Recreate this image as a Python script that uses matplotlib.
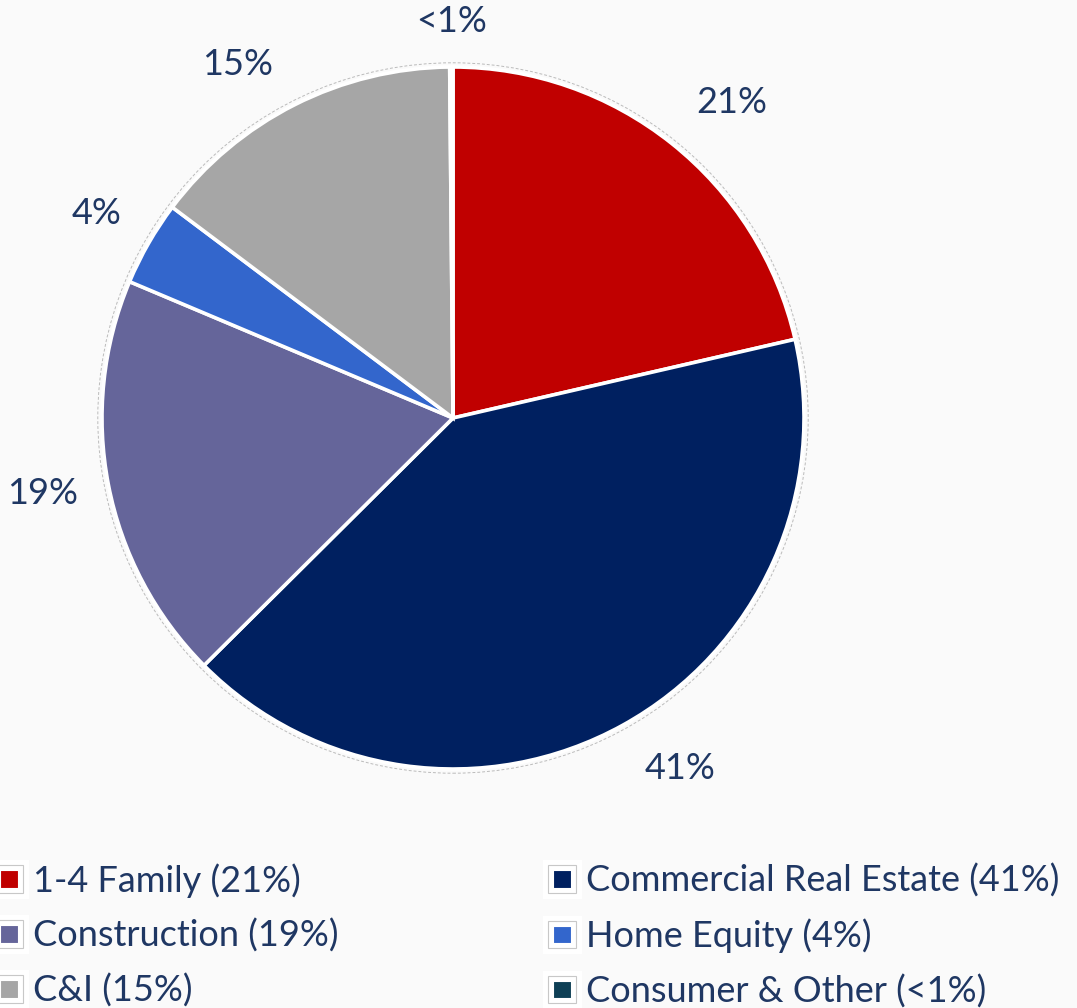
import matplotlib
matplotlib.use("Agg")
import numpy as np
import matplotlib.pyplot as plt
from matplotlib.patches import Patch, Circle
from matplotlib.legend_handler import HandlerTuple

# Loan portfolio mix
categories = ["1-4 Family", "Commercial Real Estate", "Construction",
              "Home Equity", "C&I", "Consumer & Other"]
shares = [21.4, 41.15, 18.8, 3.9, 14.6, 0.15]
pct_labels = ["21%", "41%", "19%", "4%", "15%", "<1%"]
colors = ["#C00000", "#002060", "#65659A", "#3366CC", "#A6A6A6", "#0E3F55"]
text_color = "#1F3763"

# label placement tweaks (degrees, radius) to follow the source layout
label_nudge = [3.0, -4.0, 0.5, 0.0, -4.5, 0.0]
label_radius = [1.2, 1.19, 1.19, 1.17, 1.18, 1.13]

plt.rcParams['font.family'] = ['Lato', 'DejaVu Sans']

fig = plt.figure(figsize=(10.77, 10.08), dpi=100)
fig.patch.set_facecolor("#FAFAFA")
ax = fig.add_axes([0, 0, 1, 1])
ax.set_facecolor("none")

wedges, texts = ax.pie(shares, labels=pct_labels, colors=colors, startangle=90,
                       counterclock=False, labeldistance=1.19,
                       wedgeprops=dict(edgecolor="white", linewidth=2.6),
                       textprops=dict(color=text_color, fontsize=26))
for w, t, d, r in zip(wedges, texts, label_nudge, label_radius):
    ang = np.deg2rad((w.theta1 + w.theta2) / 2 - d)
    t.set_position((r * np.cos(ang), r * np.sin(ang)))
    t.set_ha("center")
    t.set_va("center")

ax.add_patch(Circle((0, 0), 1.012, fill=False, edgecolor="#BBBBBB",
                    linestyle=(0, (3, 2)), linewidth=0.7))

# pie centre at (453, 418) px, radius 351 px
R = 351.0
cx, cy = 453.0, 418.0
ax.set_aspect("auto")
ax.set_xlim(-cx / R, (1077 - cx) / R)
ax.set_ylim(-(1008 - cy) / R, cy / R)
ax.axis("off")

# legend, column-wise order as in the source
order = [0, 2, 4, 1, 3, 5]
handles = [(Patch(facecolor=colors[i], edgecolor="white", linewidth=8),
            Patch(fill=False, edgecolor="#C8C8C8", linewidth=0.8)) for i in order]
labels = [f"{categories[i]} ({pct_labels[i]})" for i in order]
fig.legend(handles, labels, ncol=2, loc="upper left", bbox_to_anchor=(-0.028, 0.169),
           frameon=False, fontsize=26, labelcolor=text_color,
           handler_map={tuple: HandlerTuple(ndivide=1, pad=0)},
           handlelength=0.78, handleheight=0.78, handletextpad=0.27,
           columnspacing=5.8, labelspacing=0.58, borderpad=0.2)

fig.savefig("out.png", dpi=100, facecolor=fig.get_facecolor())
